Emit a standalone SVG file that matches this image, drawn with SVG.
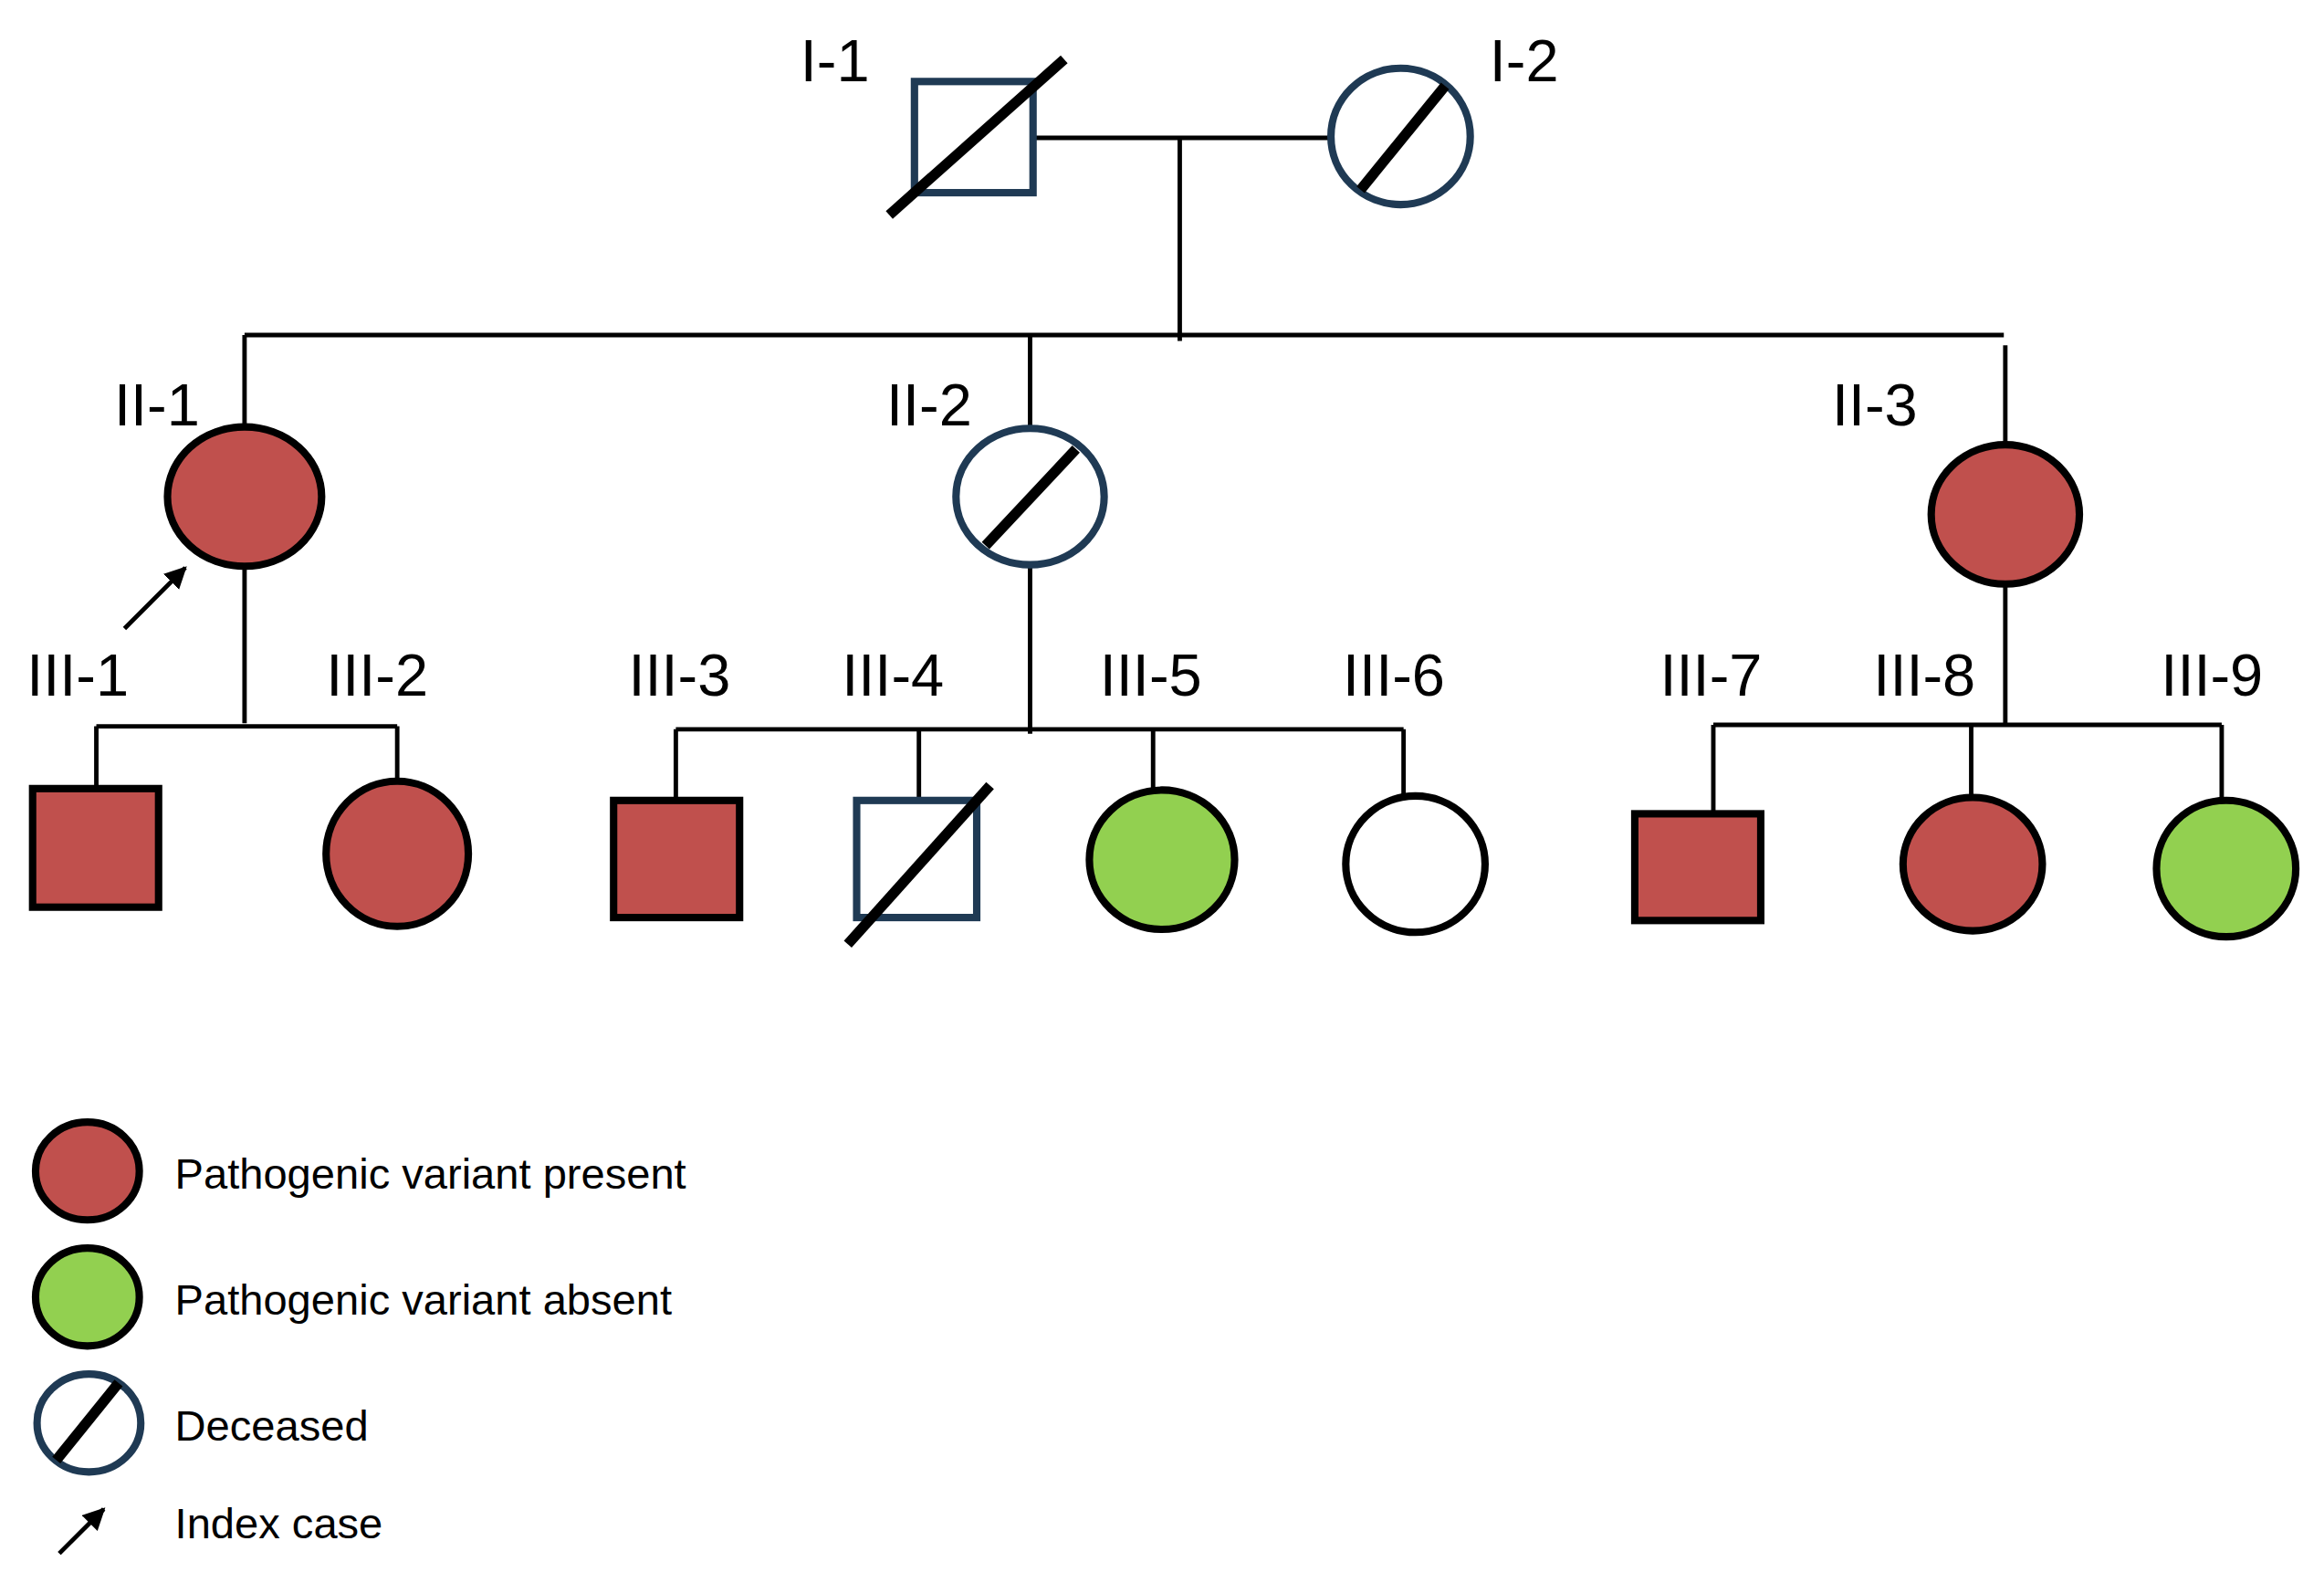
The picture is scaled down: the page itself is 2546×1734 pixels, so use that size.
<svg xmlns="http://www.w3.org/2000/svg" width="2546" height="1734" viewBox="0 0 2546 1734">
<defs>
<style>
.lbl{font-family:"Liberation Sans",Arial,sans-serif;font-size:40px;fill:#000}
.leg{font-family:"Liberation Sans",Arial,sans-serif;font-size:29px;fill:#000}
.ln{stroke:#000;stroke-width:3;fill:none}
.red{fill:#c0504d;stroke:#000;stroke-width:5}
.grn{fill:#92d050;stroke:#000;stroke-width:5}
.wht{fill:#fff;stroke:#000;stroke-width:5}
.dec{fill:#fff;stroke:#1f3a54;stroke-width:5}
.sl{stroke:#000;stroke-width:7;stroke-linecap:butt}
</style>
<marker id="ah" viewBox="0 0 10 10" refX="9" refY="5" markerWidth="5" markerHeight="5" orient="auto"><path d="M0,0 L10,5 L0,10 z" fill="#000"/></marker>
</defs>
<rect width="2546" height="1734" fill="#fff"/>
<g transform="scale(1.6237)">
<g id="connectors">
<path class="ln" d="M697,93 H898 M796,93 V230 M165,226 H1352 M165,226 V290 M695,226 V290 M1353,233 V300"/>
<path class="ln" d="M165,382 V488 M65,490 H268 M65,490 V532 M268,490 V528"/>
<path class="ln" d="M695,382 V495 M456,492 H947 M456,492 V540 M620,492 V540 M778,492 V534 M947,492 V538"/>
<path class="ln" d="M1353,395 V490 M1156,489 H1499 M1156,489 V549 M1330,489 V540 M1499,489 V541"/>
<line x1="84" y1="424" x2="125" y2="383" stroke="#000" stroke-width="3" marker-end="url(#ah)"/>
</g>
<g id="I-1"><rect class="dec" x="617" y="55" width="80" height="75"/><line class="sl" x1="600" y1="145" x2="718" y2="40"/><text class="lbl" x="540" y="55">I-1</text></g>
<g id="I-2"><ellipse class="dec" cx="945" cy="92" rx="47" ry="46"/><line class="sl" x1="918" y1="128" x2="975" y2="58"/><text class="lbl" x="1005" y="55">I-2</text></g>
<g id="II-1"><ellipse class="red" cx="165" cy="335" rx="52" ry="47"/><text class="lbl" x="77" y="287">II-1</text></g>
<g id="II-2"><ellipse class="dec" cx="695" cy="335" rx="50" ry="46"/><line class="sl" x1="665" y1="368" x2="726" y2="303"/><text class="lbl" x="598" y="287">II-2</text></g>
<g id="II-3"><ellipse class="red" cx="1353" cy="347" rx="50" ry="47"/><text class="lbl" x="1236" y="287">II-3</text></g>
<g id="III-1"><rect class="red" x="22" y="532" width="85" height="80"/><text class="lbl" x="18" y="469">III-1</text></g>
<g id="III-2"><ellipse class="red" cx="268" cy="576" rx="48" ry="49"/><text class="lbl" x="220" y="469">III-2</text></g>
<g id="III-3"><rect class="red" x="414" y="540" width="85" height="79"/><text class="lbl" x="424" y="469">III-3</text></g>
<g id="III-4"><rect class="dec" x="578" y="540" width="81" height="79"/><line class="sl" x1="572" y1="637" x2="668" y2="530"/><text class="lbl" x="568" y="469">III-4</text></g>
<g id="III-5"><ellipse class="grn" cx="784" cy="580" rx="49" ry="47"/><text class="lbl" x="742" y="469">III-5</text></g>
<g id="III-6"><ellipse class="wht" cx="955" cy="583" rx="47" ry="46"/><text class="lbl" x="906" y="469">III-6</text></g>
<g id="III-7"><rect class="red" x="1103" y="549" width="85" height="72"/><text class="lbl" x="1120" y="469">III-7</text></g>
<g id="III-8"><ellipse class="red" cx="1331" cy="583" rx="47" ry="45"/><text class="lbl" x="1264" y="469">III-8</text></g>
<g id="III-9"><ellipse class="grn" cx="1502" cy="586" rx="47" ry="46"/><text class="lbl" x="1458" y="469">III-9</text></g>
<g id="legend">
<ellipse class="red" cx="59" cy="790" rx="35" ry="33"/><text class="leg" x="118" y="802">Pathogenic variant present</text>
<ellipse class="grn" cx="59" cy="875" rx="35" ry="33"/><text class="leg" x="118" y="887">Pathogenic variant absent</text>
<ellipse class="dec" cx="60" cy="960" rx="35" ry="33"/><line class="sl" x1="38" y1="985" x2="80" y2="933"/><text class="leg" x="118" y="972">Deceased</text>
<line x1="40" y1="1048" x2="70" y2="1018" stroke="#000" stroke-width="3" marker-end="url(#ah)"/><text class="leg" x="118" y="1038">Index case</text>
</g>
</g>
</svg>
